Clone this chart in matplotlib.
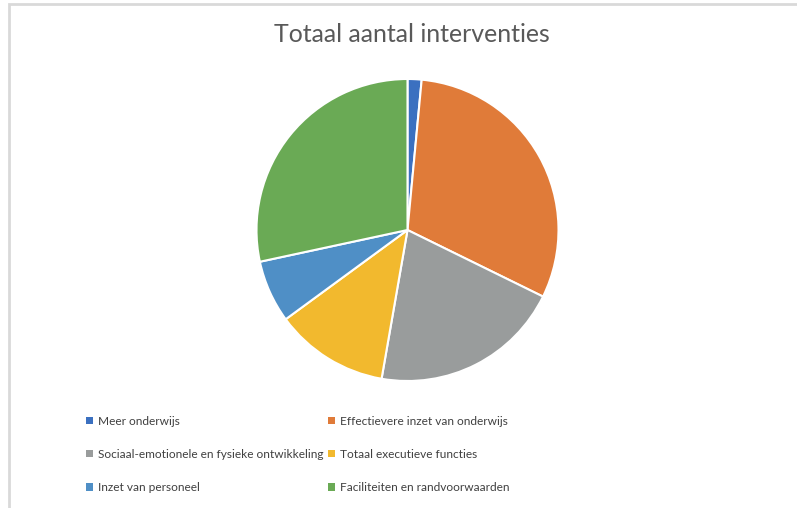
import matplotlib
matplotlib.use("Agg")
import matplotlib.pyplot as plt
from matplotlib.patches import Rectangle

title = "Totaal aantal interventies"
categories = [
    "Meer onderwijs",
    "Effectievere inzet van onderwijs",
    "Sociaal-emotionele en fysieke ontwikkeling",
    "Totaal executieve functies",
    "Inzet van personeel",
    "Faciliteiten en randvoorwaarden",
]
values = [1.5, 30.8, 20.5, 12.2, 6.7, 28.4]
colors = ["#3b70c0", "#e07b39", "#999c9c", "#f2b92e", "#4f8fc6", "#6aaa55"]

W, H = 797, 508
fig = plt.figure(figsize=(W / 100, H / 100), dpi=100)
fig.patch.set_facecolor("white")

font = ["Lato", "DejaVu Sans"]

# pie axes: center (407,230), radius ~151 px
cx, cy, r = 407.5, 230, 151
ax = fig.add_axes([(cx - r) / W, (H - cy - r) / H, 2 * r / W, 2 * r / H])
wedges, _ = ax.pie(values, colors=colors, startangle=90, counterclock=False,
                   radius=1, wedgeprops=dict(edgecolor="white", linewidth=1.5))
ax.set_xlim(-1, 1)
ax.set_ylim(-1, 1)
ax.set_aspect("equal")
ax.axis("off")

fig.text(412 / W, 1 - 34.5 / H, title, ha="center", va="center",
         fontsize=17.9, color="#595959", family=font)

order = [0, 2, 4, 1, 3, 5]
leg = fig.legend([wedges[i] for i in order], [categories[i] for i in order],
                 ncol=2, loc="upper left", bbox_to_anchor=(86 / W, 1 - 416 / H),
                 frameon=False, prop=dict(family=font, size=8.6),
                 handlelength=0.55, handleheight=0.55, handletextpad=0.45,
                 labelspacing=1.85, columnspacing=0.4, borderpad=0, borderaxespad=0)
for t in leg.get_texts():
    t.set_color("#404040")
for h in leg.legend_handles:
    h.set_edgecolor("none")

fig.add_artist(Rectangle((8.5 / W, -0.1), 1.2, (H - 4.5) / H + 0.1,
                         transform=fig.transFigure, fill=False,
                         edgecolor="#d9d9d9", linewidth=2))

fig.savefig("out.png", dpi=100)
